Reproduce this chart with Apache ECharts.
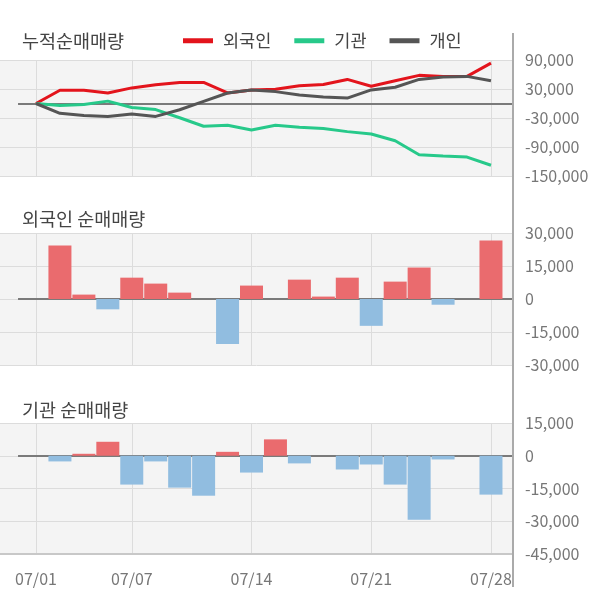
<!DOCTYPE html>
<html>
<head>
<meta charset="utf-8">
<script src="https://cdn.jsdelivr.net/npm/echarts@6/dist/echarts.min.js"></script>
<style>
html,body{margin:0;padding:0;background:#fff;}
#c{width:600px;height:604px;}
</style>
</head>
<body>
<div id="c"></div>
<script>
// ---- data ----
const dates = ['07/01','07/02','07/03','07/04','07/07','07/08','07/09','07/10','07/11','07/14',
               '07/15','07/16','07/17','07/18','07/21','07/22','07/23','07/24','07/25','07/28'];
const labelDays = ['07/01','07/07','07/14','07/21','07/28'];

const foreignCum = [0, 27400, 27400, 21800, 32300, 38600, 43500, 43500, 21800, 28100,
                    29500, 36500, 39300, 49800, 35800, 47000, 58200, 56100, 56100, 83500];
const instCum    = [0, -4200, -2100, 4900, -8400, -12600, -29500, -47000, -44900, -54700,
                    -44900, -49100, -51900, -58200, -63200, -77200, -106000, -108800, -110900, -127700];
const indivCum   = [0, -20400, -24600, -26700, -21800, -26700, -13000, 4500, 21800, 28100,
                    24600, 17500, 13300, 11200, 28100, 33700, 49800, 54700, 56100, 47000];

const foreignDaily = [0, 24300, 2000, -4700, 9700, 7000, 2900, 0, -20400, 6100,
                      0, 8800, 1100, 9700, -12200, 7900, 14300, -2600, 0, 26600];
const instDaily    = [0, -2600, 900, 6400, -13200, -2600, -14600, -18300, 1800, -7700,
                      7500, -3500, 0, -6300, -4000, -13200, -29300, -1700, 0, -17800];

const seriesNames = ['외국인', '기관', '개인'];
const panelTitles = ['누적순매매량', '외국인 순매매량', '기관 순매매량'];

// ---- layout / style ----
const FONT = "'Noto Sans CJK KR', 'Noto Sans', sans-serif";
const X_MIN = -1.503, X_MAX = 19.92;
const tickIdx = labelDays.map(d => dates.indexOf(d));
const pts = arr => arr.map((v, i) => [i, v]);
const fmt = v => v.toLocaleString('en-US');
const POS = '#ea6b6e', NEG = '#91bde0';

const grids = [
  {left: 0, top: 60, width: 513, height: 116},
  {left: 0, top: 233, width: 513, height: 132},
  {left: 0, top: 423, width: 513, height: 131}
].map(g => Object.assign(g, {show: true, backgroundColor: '#f4f4f4', borderWidth: 0}));

function xAx(i, showLabels) {
  return {
    type: 'value', gridIndex: i, min: X_MIN, max: X_MAX,
    axisTick: {show: false, customValues: tickIdx},
    axisLabel: {show: showLabels, customValues: tickIdx, formatter: v => dates[v],
                color: '#777', fontSize: 16, fontFamily: FONT, margin: 17},
    axisLine: {show: showLabels, onZero: false, lineStyle: {color: '#c8c8c8', width: 2}},
    splitLine: {show: true, lineStyle: {color: '#dcdcdc', width: 1}}
  };
}
function yAx(i, min, max, interval) {
  return {
    type: 'value', gridIndex: i, position: 'right', min, max, interval,
    axisLine: {show: false}, axisTick: {show: false},
    axisLabel: {color: '#777', fontSize: 16, fontFamily: FONT, margin: 12, formatter: fmt},
    splitLine: {show: true, lineStyle: {color: '#dcdcdc', width: 1}}
  };
}
function zeroLine(xi) {
  return {
    type: 'line', xAxisIndex: xi, yAxisIndex: xi, data: [], z: 1,
    markLine: {silent: true, symbol: 'none', z: 1, label: {show: false},
      lineStyle: {color: '#7a7a7a', width: 2, type: 'solid'},
      data: [[{coord: [-0.75, 0]}, {coord: [X_MAX, 0]}]]}
  };
}
const lineColors = ['#e3141c', '#27c98a', '#555555'];
const cums = [foreignCum, instCum, indivCum];

const option = {
  animation: false,
  textStyle: {fontFamily: FONT},
  title: panelTitles.map((t, i) => ({
    text: t, left: 17, top: [26.5, 204.5, 395.5][i],
    textStyle: {fontSize: 18.5, fontWeight: 'normal', color: '#444', fontFamily: FONT}
  })),
  legend: {
    left: 178, top: 27, itemWidth: 30, itemHeight: 5, itemGap: 23, icon: 'rect',
    textStyle: {fontSize: 17.5, color: '#444', fontFamily: FONT, padding: [0, 0, 0, 5]},
    data: seriesNames
  },
  grid: grids,
  xAxis: [xAx(0, false), xAx(1, false), xAx(2, true)],
  yAxis: [yAx(0, -150000, 90000, 60000), yAx(1, -30000, 30000, 15000), yAx(2, -45000, 15000, 15000)],
  series: [
    zeroLine(0), zeroLine(1), zeroLine(2),
    ...seriesNames.map((n, k) => ({
      name: n, type: 'line', xAxisIndex: 0, yAxisIndex: 0, data: pts(cums[k]),
      symbol: 'none', color: lineColors[k], lineStyle: {width: 3, color: lineColors[k]}, z: 3
    })),
    {type: 'bar', xAxisIndex: 1, yAxisIndex: 1, barWidth: 23, data: pts(foreignDaily),
     itemStyle: {color: p => p.value[1] >= 0 ? POS : NEG}},
    {type: 'bar', xAxisIndex: 2, yAxisIndex: 2, barWidth: 23, data: pts(instDaily),
     itemStyle: {color: p => p.value[1] >= 0 ? POS : NEG}}
  ],
  graphic: [{
    type: 'line', shape: {x1: 513, y1: 33, x2: 513, y2: 587},
    style: {stroke: '#aaaaaa', lineWidth: 2}, z: 10
  }]
};
const chart = echarts.init(document.getElementById('c'), null, {renderer: 'canvas'});
chart.setOption(option);
</script>
</body>
</html>
